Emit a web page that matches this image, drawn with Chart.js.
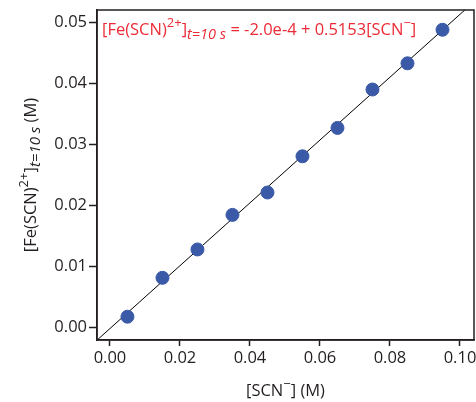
<!DOCTYPE html>
<html>
<head>
<meta charset="utf-8">
<script src="https://cdn.jsdelivr.net/npm/chart.js@4.4.1/dist/chart.umd.min.js"></script>
<style>
  html, body { margin: 0; padding: 0; background: #ffffff; }
  #wrap { width: 476px; height: 402px; position: relative; }
</style>
</head>
<body>
<div id="wrap"><canvas id="c" width="476" height="402"></canvas></div>
<script>
// ---- data ----
const scnConc = [0.005, 0.015, 0.025, 0.035, 0.045, 0.055, 0.065, 0.075, 0.085, 0.095];
const feScnConc = [0.00174, 0.00812, 0.01277, 0.01844, 0.02211, 0.02805, 0.03270, 0.03900, 0.04330, 0.04880];
const xTickValues = [0.00, 0.02, 0.04, 0.06, 0.08, 0.10];
const yTickValues = [0.00, 0.01, 0.02, 0.03, 0.04, 0.05];
const fitIntercept = -2.0e-4;
const fitSlope = 0.5153;
const xRange = [-0.0037, 0.104];
const yRange = [-0.00208, 0.05204];

const FONT = "'Open Sans', 'DejaVu Sans', sans-serif";
const RED = '#ec2b36';
const BLUE = '#3a5aa8';
const INK = '#231f20';

const fitLine = [
  { x: xRange[0], y: fitIntercept + fitSlope * xRange[0] },
  { x: xRange[1], y: fitIntercept + fitSlope * xRange[1] }
];

function drawRich(ctx, parts, x, y, align) {
  let total = 0;
  const measured = parts.map(p => {
    ctx.font = (p.italic ? 'italic ' : '') + p.size + 'px ' + FONT;
    const w = ctx.measureText(p.t).width;
    total += w;
    return w;
  });
  let cx = align === 'center' ? x - total / 2 : x;
  parts.forEach((p, i) => {
    ctx.font = (p.italic ? 'italic ' : '') + p.size + 'px ' + FONT;
    ctx.fillText(p.t, cx, y + (p.dy || 0));
    cx += measured[i];
  });
}

const richPlugin = {
  id: 'rich',
  afterDraw(chart) {
    const ctx = chart.ctx;
    const a = chart.chartArea;
    ctx.save();
    ctx.strokeStyle = INK;
    ctx.lineWidth = 1.5;
    ctx.strokeRect(a.left, a.top, a.right - a.left, a.bottom - a.top);
    ctx.textBaseline = 'alphabetic';
    ctx.textAlign = 'left';
    // annotation
    ctx.fillStyle = RED;
    drawRich(ctx, [
      { t: '[Fe(SCN)', size: 16.5 },
      { t: '2+', size: 13, dy: -8 },
      { t: ']', size: 16.5 },
      { t: 't=10 s', size: 14.5, italic: true, dy: 4 },
      { t: ' = -2.0e-4 + 0.5153[SCN', size: 16.5 },
      { t: '\u2212', size: 13, dy: -8 },
      { t: ']', size: 16.5 }
    ], a.left + 5, 35, 'left');
    // x title
    ctx.fillStyle = INK;
    drawRich(ctx, [
      { t: '[SCN', size: 16.5 },
      { t: '\u2212', size: 13, dy: -8 },
      { t: '] (M)', size: 16.5 }
    ], (a.left + a.right) / 2, 396, 'center');
    // y title
    ctx.translate(36, (a.top + a.bottom) / 2);
    ctx.rotate(-Math.PI / 2);
    drawRich(ctx, [
      { t: '[Fe(SCN)', size: 16.5 },
      { t: '2+', size: 13, dy: -8 },
      { t: ']', size: 16.5 },
      { t: 't=10 s', size: 15, italic: true, dy: 4 },
      { t: ' (M)', size: 16.5 }
    ], 0, 0, 'center');
    ctx.restore();
  }
};

new Chart(document.getElementById('c'), {
  type: 'scatter',
  data: {
    datasets: [
      {
        type: 'line',
        data: fitLine,
        borderColor: '#000000',
        borderWidth: 1,
        pointRadius: 0,
        clip: 0,
        order: 2
      },
      {
        data: scnConc.map((x, i) => ({ x: x, y: feScnConc[i] })),
        backgroundColor: BLUE,
        borderColor: BLUE,
        pointRadius: 6.5,
        pointHoverRadius: 6.5,
        order: 1
      }
    ]
  },
  options: {
    responsive: false,
    animation: false,
    devicePixelRatio: 1,
    layout: { autoPadding: false, padding: { top: 10, right: 2, left: 0, bottom: 0 } },
    plugins: { legend: { display: false }, tooltip: { enabled: false } },
    scales: {
      x: {
        type: 'linear',
        min: xRange[0],
        max: xRange[1],
        afterBuildTicks: s => { s.ticks = xTickValues.map(v => ({ value: v })); },
        afterFit: s => { s.height = 62; s.paddingLeft = 0; s.paddingRight = 0; },
        grid: { drawOnChartArea: false, drawTicks: true, tickLength: 6, tickColor: INK, tickWidth: 1.5 },
        border: { display: true, color: INK, width: 1.5 },
        ticks: {
          color: INK,
          font: { family: FONT, size: 16.5 },
          padding: 2,
          maxRotation: 0,
          callback: v => Number(v).toFixed(2)
        }
      },
      y: {
        type: 'linear',
        min: yRange[0],
        max: yRange[1],
        afterBuildTicks: s => { s.ticks = yTickValues.map(v => ({ value: v })); },
        afterFit: s => { s.width = 97; s.paddingTop = 0; s.paddingBottom = 0; },
        grid: { drawOnChartArea: false, drawTicks: true, tickLength: 8, tickColor: INK, tickWidth: 1.5 },
        border: { display: true, color: INK, width: 1.5 },
        ticks: {
          color: INK,
          font: { family: FONT, size: 16.5 },
          padding: 2,
          callback: v => Number(v).toFixed(2)
        }
      }
    }
  },
  plugins: [richPlugin]
});
</script>
</body>
</html>
